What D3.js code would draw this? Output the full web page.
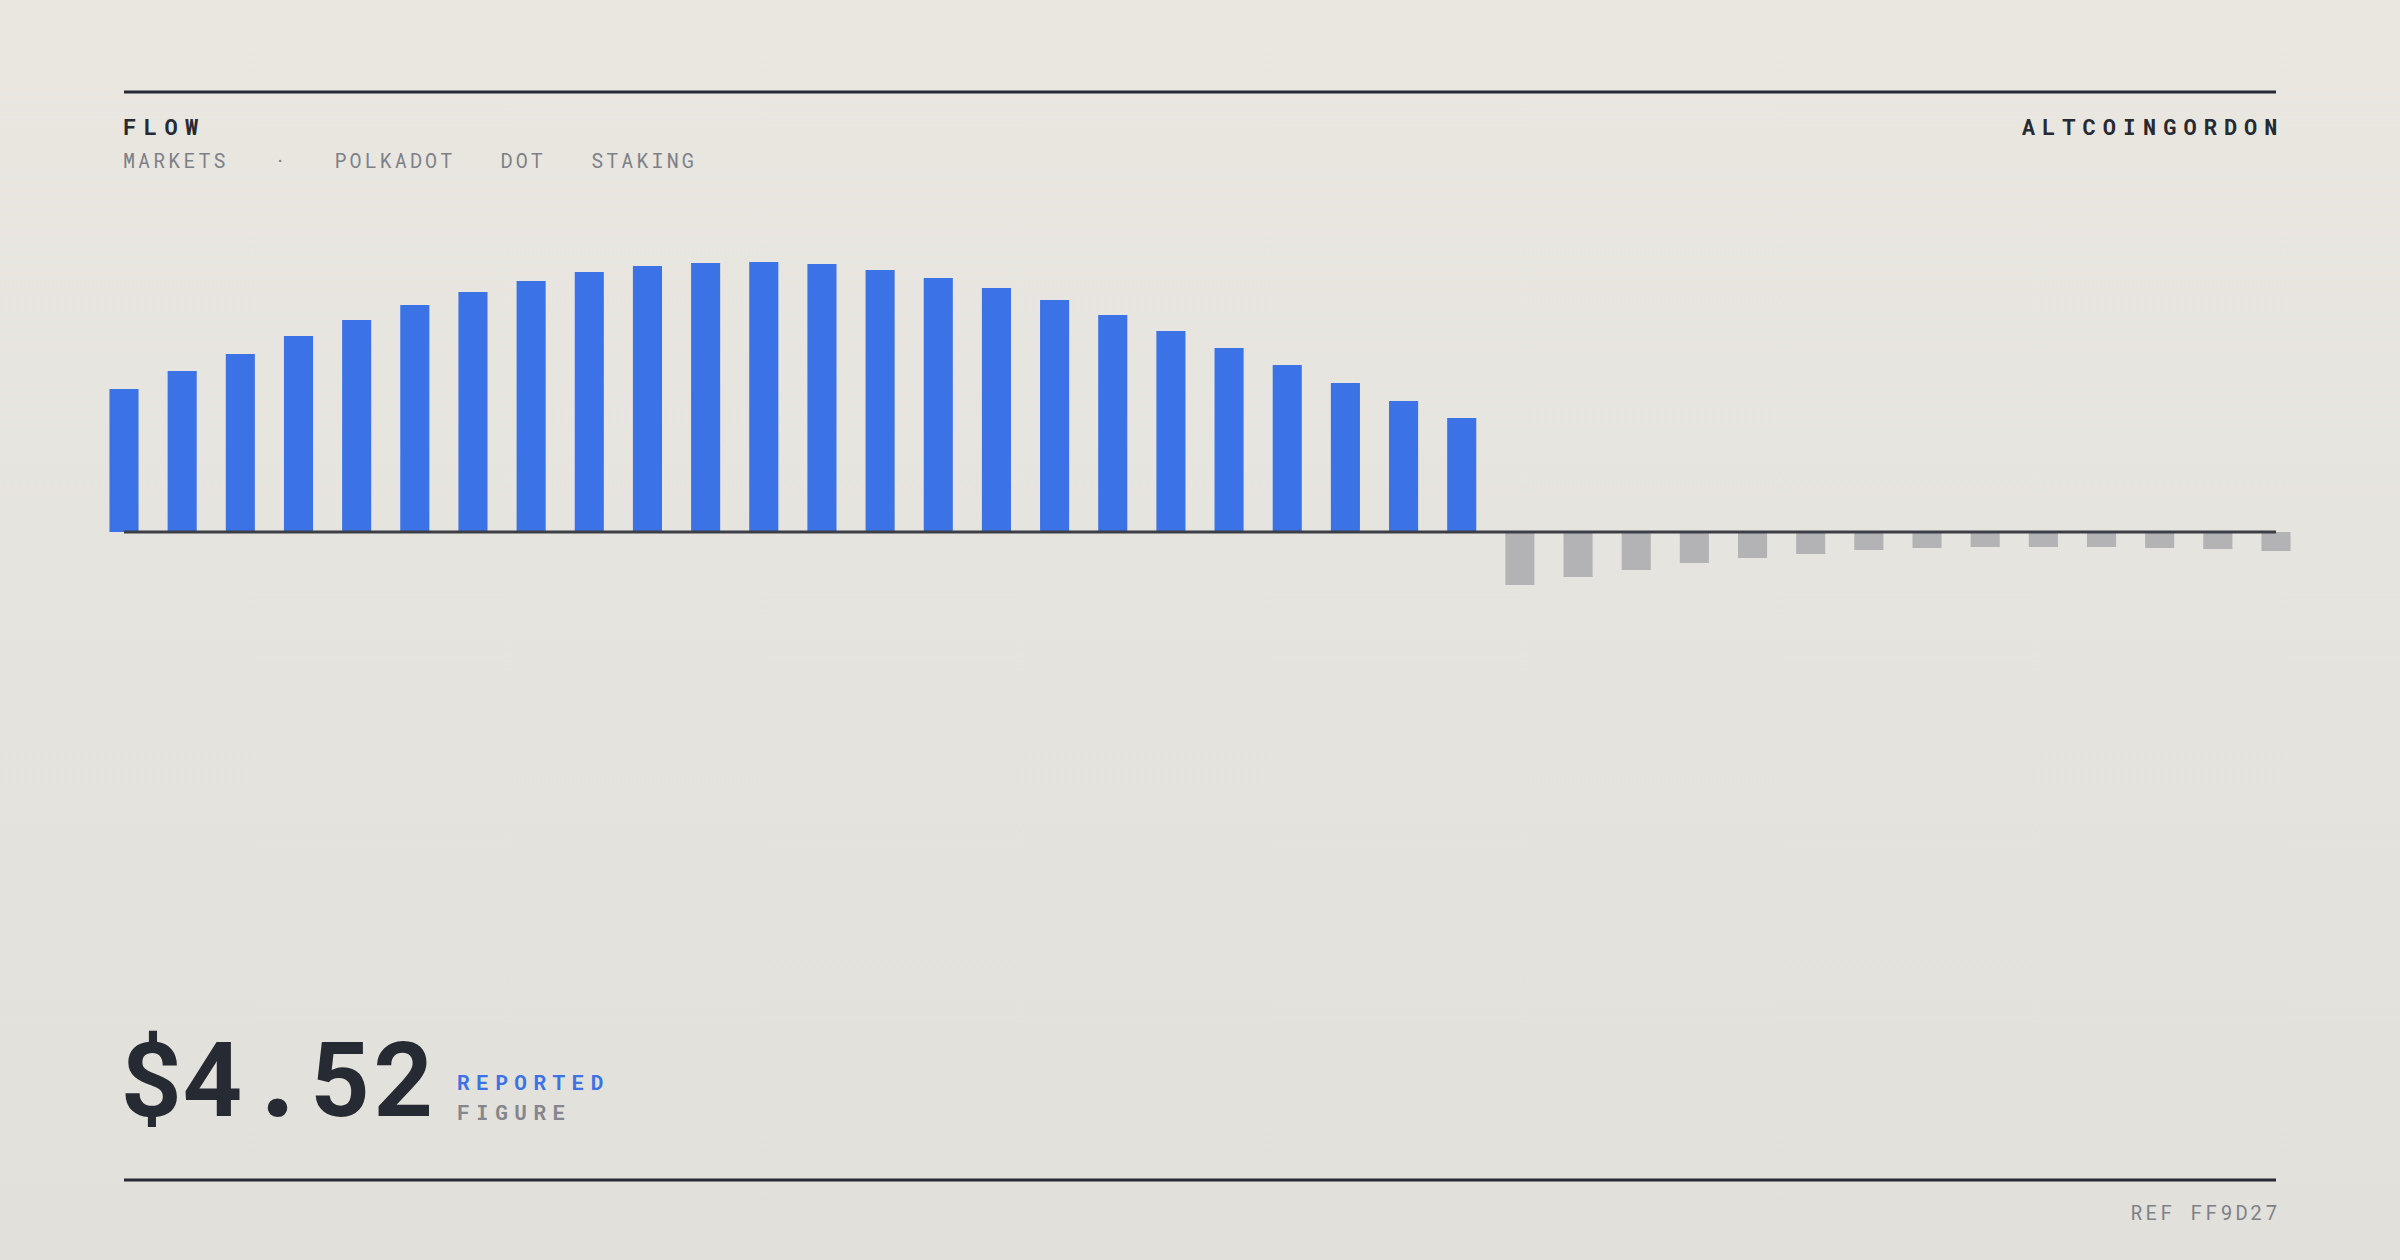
<!DOCTYPE html>
<html>
<head>
<meta charset="utf-8">
<script src="https://cdn.jsdelivr.net/npm/d3@7"></script>
<style>
  html, body { margin: 0; padding: 0; background: #e6e4de; }
  body { width: 2400px; height: 1260px; overflow: hidden; }
  text { font-family: 'Roboto Mono', 'DejaVu Sans Mono', monospace; }
</style>
</head>
<body>
<svg id="chart" width="2400" height="1260"></svg>
<script>
// ---- data ----
const periods = ["P01","P02","P03","P04","P05","P06","P07","P08","P09","P10",
                 "P11","P12","P13","P14","P15","P16","P17","P18","P19","P20",
                 "P21","P22","P23","P24","P25","P26","P27","P28","P29","P30",
                 "P31","P32","P33","P34","P35","P36","P37","P38"];
const flowValues = [1.43, 1.61, 1.78, 1.96, 2.12, 2.27, 2.40, 2.51, 2.60, 2.66,
                    2.69, 2.70, 2.68, 2.62, 2.54, 2.44, 2.32, 2.17, 2.01, 1.84,
                    1.67, 1.49, 1.31, 1.14,
                    -0.53, -0.45, -0.38, -0.31, -0.26, -0.22, -0.18, -0.16, -0.15, -0.15,
                    -0.15, -0.16, -0.17, -0.19];
const titleText = "FLOW";
const subtitleWords = ["MARKETS", "·", "POLKADOT", "DOT", "STAKING"];
const brandText = "ALTCOINGORDON";
const headlineValue = "$4.52";
const headlineLabels = ["REPORTED", "FIGURE"];
const refText = "REF FF9D27";

// ---- layout ----
const W = 2400, H = 1260;
const left = 124, right = 2276;
const baseY = 532;
const ink = "#262a33";
const grayText = "#7e8088";
const blue = "#3b73e6";
const negGray = "#b3b3b5";

const svg = d3.select("#chart");

const defs = svg.append("defs");
const grad = defs.append("linearGradient").attr("id", "bg").attr("x1", 0).attr("y1", 0).attr("x2", 0).attr("y2", 1);
grad.append("stop").attr("offset", "0%").attr("stop-color", "#eae7e1");
grad.append("stop").attr("offset", "100%").attr("stop-color", "#e1e0db");
svg.append("rect").attr("width", W).attr("height", H).attr("fill", "url(#bg)");

// rules
svg.append("line").attr("x1", left).attr("x2", right).attr("y1", 92).attr("y2", 92)
  .attr("stroke", ink).attr("stroke-width", 3);
svg.append("line").attr("x1", left).attr("x2", right).attr("y1", 1180).attr("y2", 1180)
  .attr("stroke", ink).attr("stroke-width", 3);

// header texts
svg.append("text").attr("x", left - 1).attr("y", 135)
  .attr("font-size", 22).attr("font-weight", 700).attr("letter-spacing", 7.5)
  .attr("fill", ink).text(titleText);
svg.append("text").attr("x", left - 1).attr("y", 168)
  .attr("font-size", 20).attr("letter-spacing", 3.1).attr("fill", grayText)
  .style("white-space", "pre")
  .text(subtitleWords.join("   "));
svg.append("text").attr("x", right + 1.5 + 7.0).attr("y", 134.5)
  .attr("text-anchor", "end")
  .attr("font-size", 22).attr("font-weight", 700).attr("letter-spacing", 7.0)
  .attr("fill", ink).text(brandText);

// scales
const x = d3.scalePoint().domain(periods).range([left, right]);
const step = x.step();
const barW = step * 0.5;
const y = d3.scaleLinear().domain([0, 3]).range([baseY, baseY - 300]);

svg.append("g").selectAll("rect").data(periods.map((p, i) => ({p, v: flowValues[i]})))
  .join("rect")
  .attr("x", d => x(d.p) - barW / 2)
  .attr("width", barW)
  .attr("y", d => d.v >= 0 ? y(d.v) : y(0))
  .attr("height", d => Math.abs(y(d.v) - y(0)))
  .attr("fill", d => d.v >= 0 ? blue : negGray);

// baseline
svg.append("line").attr("x1", left).attr("x2", right).attr("y1", y(0)).attr("y2", y(0))
  .attr("stroke", "#3c3f47").attr("stroke-width", 3);

// headline
svg.append("text").attr("x", 119).attr("y", 1116)
  .attr("font-size", 104).attr("font-weight", 900).attr("letter-spacing", 1.2).attr("fill", ink)
  .text(headlineValue);
svg.append("text").attr("x", 457).attr("y", 1090)
  .attr("font-size", 21).attr("font-weight", 700).attr("letter-spacing", 6.5)
  .attr("fill", blue).text(headlineLabels[0]);
svg.append("text").attr("x", 457).attr("y", 1120)
  .attr("font-size", 21).attr("font-weight", 700).attr("letter-spacing", 6.5)
  .attr("fill", "#85868d").text(headlineLabels[1]);

// footer ref
svg.append("text").attr("x", right + 1.5 + 3).attr("y", 1220)
  .attr("text-anchor", "end")
  .attr("font-size", 20).attr("letter-spacing", 3).attr("fill", grayText)
  .text(refText);
</script>
</body>
</html>
